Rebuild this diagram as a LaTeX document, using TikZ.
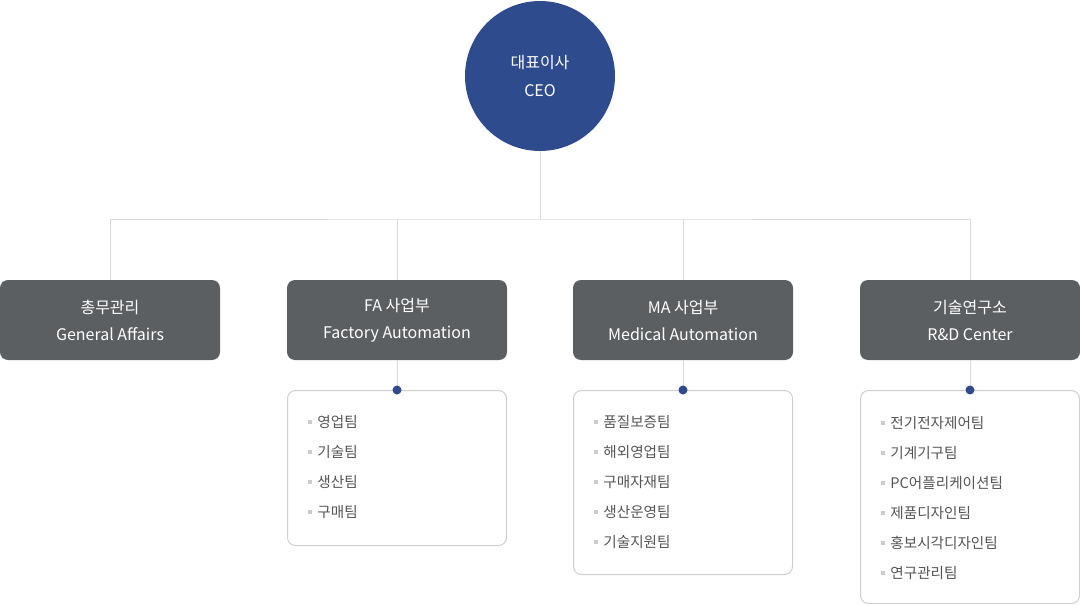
\documentclass[tikz,border=0pt]{standalone}
\usepackage{fontspec}
\setmainfont{Noto Sans CJK KR}
\usetikzlibrary{positioning}
\definecolor{ceoblue}{HTML}{2E4B8E}
\definecolor{deptgray}{HTML}{5C5F62}
\definecolor{linegray}{HTML}{D9D9D9}
\definecolor{framegray}{HTML}{CFCFCF}
\definecolor{itemgray}{HTML}{555555}
\definecolor{bulletgray}{HTML}{CCCCCC}

\begin{document}
\begin{tikzpicture}[x=1pt,y=-1pt,
	ceo/.style={circle, fill=ceoblue, minimum size=150pt, inner sep=0pt, text=white,
		font=\fontsize{16}{28}\selectfont, align=center},
	dept/.style={rectangle, rounded corners=8pt, fill=deptgray, minimum width=220pt,
		minimum height=80pt, text=white, font=\fontsize{16}{27}\selectfont, align=center},
	teamlist/.style={rectangle, rounded corners=8pt, draw=framegray, line width=1pt,
		fill=white, minimum width=219pt, anchor=north},
	team/.style={anchor=west, inner sep=0pt, text=itemgray, font=\fontsize{14.6}{16}\selectfont},
	bullet/.style={rectangle, fill=bulletgray, minimum size=4pt, inner sep=0pt},
	dot/.style={circle, fill=ceoblue, minimum size=9pt, inner sep=0pt},
	link/.style={draw=linegray, line width=1pt}]
	\useasboundingbox (0,0) rectangle (1080,605);
	
	% CEO and departments
	\node[ceo] (ceo) at (540,76) {대표이사\\CEO};
	\node[dept] (ga) at (110,320) {총무관리\\General Affairs};
	\node[dept] (fa) at (397,320) {FA 사업부\\Factory Automation};
	\node[dept] (ma) at (683,320) {MA 사업부\\Medical Automation};
	\node[dept] (rd) at (970,320) {기술연구소\\R\&D Center};
	
	% Tree lines
	\coordinate (fork) at (540,219);
	\draw[link] (ceo.south) -- (fork);
	\draw[link] (ga.north) |- (fork) -| (rd.north);
	\draw[link] (fa.north) -- (fa.north |- fork);
	\draw[link] (ma.north) -- (ma.north |- fork);
	
	% Team lists
	\node[teamlist, minimum height=155pt] (falist) at (397,390) {};
	\node[teamlist, minimum height=184pt] (malist) at (683,390) {};
	\node[teamlist, minimum height=213pt] (rdlist) at (970,390) {};
	\foreach \d in {fa,ma,rd}{
		\draw[link] (\d.south) -- (\d list.north);
		\node[dot] (\d dot) at (\d list.north) {};
	}
	
	\foreach \t [count=\i] in {영업팀,기술팀,생산팀,구매팀}{
		\node[bullet] (fa-b\i) at (310,392+30*\i) {};
		\node[team, right=5pt of fa-b\i] (fa-\i) {\t};
	}
	\foreach \t [count=\i] in {품질보증팀,해외영업팀,구매자재팀,생산운영팀,기술지원팀}{
		\node[bullet] (ma-b\i) at (596,392+30*\i) {};
		\node[team, right=5pt of ma-b\i] (ma-\i) {\t};
	}
	\foreach \t [count=\i] in {전기전자제어팀,기계기구팀,PC어플리케이션팀,제품디자인팀,홍보시각디자인팀,연구관리팀}{
		\node[bullet] (rd-b\i) at (883,393+30*\i) {};
		\node[team, right=5pt of rd-b\i] (rd-\i) {\t};
	}
\end{tikzpicture}
\end{document}
